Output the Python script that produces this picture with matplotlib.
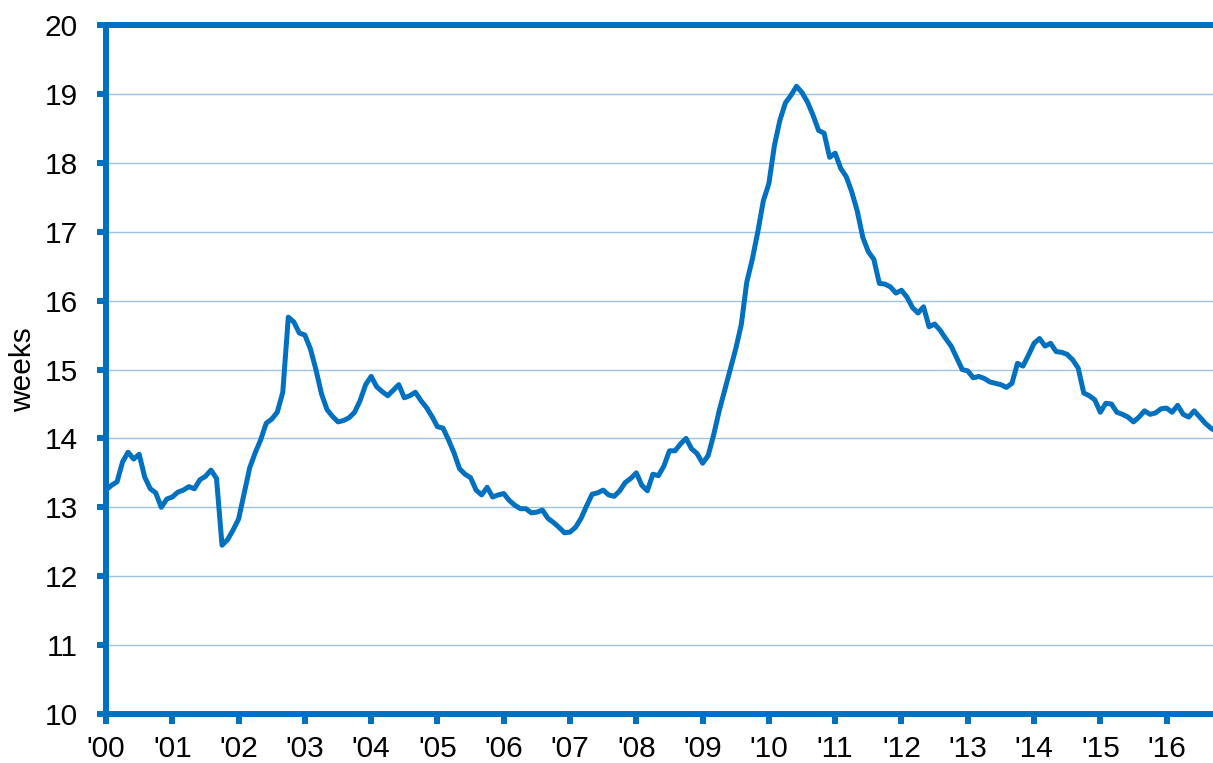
import numpy as np
import matplotlib
matplotlib.use("Agg")
from matplotlib import pyplot as plt

# monthly values, Jan 2000 onwards (weeks)
v2000 = [13.25, 13.32, 13.37, 13.66, 13.80, 13.70, 13.77, 13.44, 13.27, 13.21, 13.00, 13.12]
v2001 = [13.15, 13.22, 13.25, 13.30, 13.27, 13.40, 13.45, 13.54, 13.42, 12.45, 12.53, 12.67]
v2002 = [12.83, 13.20, 13.57, 13.79, 13.98, 14.22, 14.28, 14.38, 14.67, 15.76, 15.69, 15.53]
v2003 = [15.50, 15.30, 15.00, 14.65, 14.42, 14.32, 14.24, 14.26, 14.30, 14.38, 14.55, 14.78]
v2004 = [14.90, 14.75, 14.68, 14.62, 14.70, 14.78, 14.59, 14.62, 14.67, 14.55, 14.45, 14.32]
v2005 = [14.17, 14.15, 13.98, 13.79, 13.56, 13.48, 13.43, 13.25, 13.18, 13.29, 13.15, 13.18]
v2006 = [13.20, 13.10, 13.03, 12.98, 12.98, 12.92, 12.93, 12.96, 12.84, 12.78, 12.71, 12.63]
v2007 = [12.64, 12.71, 12.84, 13.02, 13.19, 13.21, 13.25, 13.18, 13.16, 13.24, 13.36, 13.42]
v2008 = [13.50, 13.32, 13.24, 13.48, 13.46, 13.60, 13.82, 13.82, 13.92, 14.00, 13.85, 13.78]
v2009 = [13.64, 13.75, 14.05, 14.40, 14.70, 15.00, 15.30, 15.65, 16.27, 16.60, 17.00, 17.45]
v2010 = [17.70, 18.25, 18.62, 18.87, 18.98, 19.11, 19.02, 18.88, 18.69, 18.47, 18.43, 18.08]
v2011 = [18.14, 17.92, 17.80, 17.58, 17.30, 16.92, 16.71, 16.60, 16.25, 16.24, 16.20, 16.11]
v2012 = [16.15, 16.05, 15.90, 15.82, 15.91, 15.62, 15.66, 15.57, 15.45, 15.34, 15.17, 15.00]
v2013 = [14.98, 14.88, 14.90, 14.87, 14.82, 14.80, 14.78, 14.74, 14.80, 15.09, 15.05, 15.21]
v2014 = [15.38, 15.45, 15.34, 15.38, 15.26, 15.25, 15.22, 15.14, 15.02, 14.66, 14.62, 14.56]
v2015 = [14.38, 14.51, 14.50, 14.38, 14.35, 14.31, 14.24, 14.31, 14.40, 14.35, 14.37, 14.43]
v2016 = [14.44, 14.38, 14.48, 14.35, 14.31, 14.40, 14.31, 14.22, 14.15, 14.10]

values = (v2000 + v2001 + v2002 + v2003 + v2004 + v2005 + v2006 + v2007 + v2008
          + v2009 + v2010 + v2011 + v2012 + v2013 + v2014 + v2015 + v2016)
years = list(range(2000, 2017))
year_labels = ["'%02d" % (y % 100) for y in years]

x = 2000 + np.arange(len(values)) / 12.0

blue = '#0070C0'
grid_blue = '#9DC3E6'

plt.rcParams['font.family'] = ['Liberation Sans', 'DejaVu Sans']

fig = plt.figure(figsize=(12.13, 7.63), dpi=100)
ax = fig.add_axes([0.0874, 0.0642, 0.9126, 0.9030])

ax.plot(x, values, color=blue, lw=3.6, solid_joinstyle='round', zorder=3)

ax.set_xlim(2000, 2000 + 200.4 / 12)
ax.set_ylim(10, 20)
ax.set_yticks(range(10, 21))
ax.set_xticks(years)
ax.set_xticklabels(year_labels)

ax.grid(axis='y', color=grid_blue, lw=1.0)
ax.set_axisbelow(True)

for side in ['left', 'bottom', 'top']:
    ax.spines[side].set_color(blue)
    ax.spines[side].set_linewidth(4.3)
ax.spines['right'].set_visible(False)

ax.tick_params(axis='y', direction='out', length=6.5, width=4.3, color=blue,
               labelsize=21.5, pad=14)
ax.tick_params(axis='x', direction='out', length=7, width=4.3, color=blue,
               labelsize=21.5, pad=8)
ax.set_ylabel('weeks', fontsize=21.5, labelpad=5)

fig.savefig('out.png', dpi=100)
